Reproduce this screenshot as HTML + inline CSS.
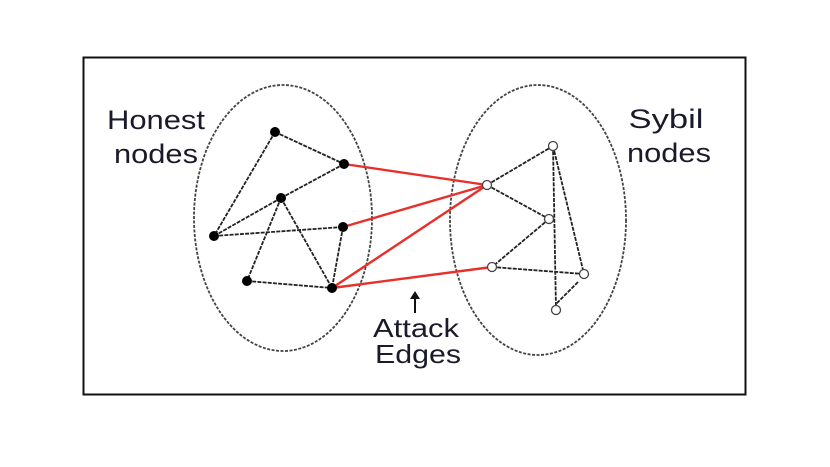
<!DOCTYPE html>
<html><head><style>html,body{margin:0;padding:0;background:#fff;}svg{display:block}</style></head>
<body>
<svg width="830" height="467" viewBox="0 0 830 467" xmlns="http://www.w3.org/2000/svg">
<rect x="0" y="0" width="830" height="467" fill="#fff"/>
<rect x="83.5" y="57.5" width="662" height="337" fill="none" stroke="#111" stroke-width="2"/>
<g font-family="Liberation Sans, Arial, sans-serif" font-size="27" fill="#1a1a2a" text-anchor="middle" lengthAdjust="spacingAndGlyphs">
<text x="156" y="129" textLength="98" lengthAdjust="spacingAndGlyphs">Honest</text>
<text x="156" y="163" textLength="84" lengthAdjust="spacingAndGlyphs">nodes</text>
<text x="666" y="128" textLength="75" lengthAdjust="spacingAndGlyphs">Sybil</text>
<text x="669" y="162" textLength="84" lengthAdjust="spacingAndGlyphs">nodes</text>
<text x="416" y="337" font-size="26" textLength="86" lengthAdjust="spacingAndGlyphs">Attack</text>
<text x="418" y="363" font-size="26" textLength="86" lengthAdjust="spacingAndGlyphs">Edges</text>
</g>
<line x1="415" y1="313" x2="415" y2="297" stroke="#111" stroke-width="2"/>
<polygon points="410,299 420,299 415,291" fill="#111"/>
<g fill="none" stroke="#444" stroke-width="1.8" stroke-dasharray="3,1.5">
<ellipse cx="283" cy="218" rx="89" ry="133"/>
<ellipse cx="538" cy="220" rx="88" ry="135"/>
</g>
<g stroke="#222" stroke-width="1.8" stroke-dasharray="4,1.2">
<line x1="275" y1="132" x2="214" y2="236"/>
<line x1="275" y1="132" x2="344" y2="164"/>
<line x1="344" y1="164" x2="281" y2="198"/>
<line x1="281" y1="198" x2="214" y2="236"/>
<line x1="214" y1="236" x2="343" y2="227"/>
<line x1="343" y1="227" x2="332" y2="288"/>
<line x1="281" y1="198" x2="247" y2="281"/>
<line x1="281" y1="198" x2="332" y2="288"/>
<line x1="247" y1="281" x2="332" y2="288"/>
<line x1="487" y1="185" x2="553" y2="146"/>
<line x1="487" y1="185" x2="549" y2="219"/>
<line x1="553" y1="146" x2="556" y2="310"/>
<line x1="553" y1="146" x2="584" y2="274"/>
<line x1="549" y1="219" x2="492" y2="267"/>
<line x1="492" y1="267" x2="584" y2="274"/>
<line x1="578" y1="282" x2="556" y2="304"/>
</g>
<g stroke="#e8302a" stroke-width="2.4">
<line x1="344" y1="164" x2="487" y2="185"/>
<line x1="343" y1="227" x2="487" y2="185"/>
<line x1="332" y1="288" x2="487" y2="185"/>
<line x1="332" y1="288" x2="492" y2="267"/>
</g>
<g fill="#000">
<circle cx="275" cy="132" r="5"/>
<circle cx="344" cy="164" r="5"/>
<circle cx="281" cy="198" r="5"/>
<circle cx="343" cy="227" r="5"/>
<circle cx="214" cy="236" r="5"/>
<circle cx="247" cy="281" r="5"/>
<circle cx="332" cy="288" r="5"/>
</g>
<g fill="#fff" stroke="#444" stroke-width="1.3">
<circle cx="553" cy="146" r="4.5"/>
<circle cx="487" cy="185" r="4.5"/>
<circle cx="549" cy="219" r="4.5"/>
<circle cx="492" cy="267" r="4.5"/>
<circle cx="584" cy="274" r="4.5"/>
<circle cx="556" cy="310" r="4.5"/>
</g>
</svg>
</body></html>
